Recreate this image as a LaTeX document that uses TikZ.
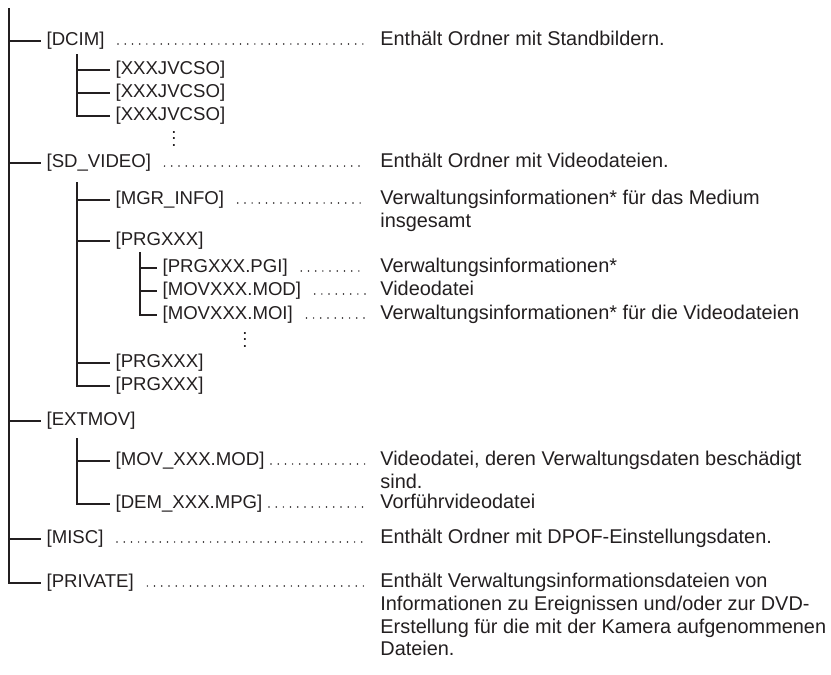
\documentclass[tikz,border=0pt]{standalone}
\usepackage{fontspec}
\setmainfont{Liberation Sans}
\usepackage{xcolor}
\usetikzlibrary{positioning,calc}
\definecolor{ink}{HTML}{231F20}
\newcommand{\stackdots}{\vbox{\baselineskip=3.3pt\lineskiplimit=0pt\hbox{.}\hbox{.}\hbox{.}}}
\newcommand{\desclines}[1]{\begin{tabular}[t]{@{}l@{}}#1\end{tabular}}

\begin{document}
\begin{tikzpicture}[
  x=0.5pt, y=-0.5pt,
  every node/.style={font=\fontsize{9.3}{11.25}\selectfont, text=ink},
  folder/.style={anchor=west, inner xsep=2.6pt, inner ysep=0pt},
  desc/.style={anchor=base west, inner sep=0pt, font=\fontsize{9.95}{11.35}\selectfont},
  more/.style={inner sep=0pt},
  branch/.style={draw=ink, line width=1pt},
  leader/.style={draw=ink, line width=0.85pt, line cap=round, dash pattern=on 0pt off 3.6pt, shorten <=4pt, shorten >=7pt},
]
  \useasboundingbox (0,0) rectangle (831,675);

  % Top level folders
  \coordinate (root) at (9,8);
  \node[folder] (dcim) at (41,41) {[DCIM]};
  \node[folder] (sdvideo) at (41,163) {[SD\_VIDEO]};
  \node[folder] (extmov) at (41,421) {[EXTMOV]};
  \node[folder] (misc) at (41,539) {[MISC]};
  \node[folder] (private) at (41,583) {[PRIVATE]};

  % DCIM
  \coordinate (dcim-sub) at (77,54);
  \node[folder] (jvc1) at (110,70) {[XXXJVCSO]};
  \node[folder] (jvc2) at (110,93) {[XXXJVCSO]};
  \node[folder] (jvc3) at (110,116) {[XXXJVCSO]};
  \node[more] (more1) at (174,139) {\stackdots};

  % SD_VIDEO
  \coordinate (sdvideo-sub) at (77,182);
  \node[folder] (mgr) at (110,200) {[MGR\_INFO]};
  \node[folder] (prg1) at (110,241) {[PRGXXX]};
  \node[folder] (prg2) at (110,363) {[PRGXXX]};
  \node[folder] (prg3) at (110,386) {[PRGXXX]};

  % PRGXXX
  \coordinate (prg1-sub) at (140,252);
  \node[folder] (pgi) at (157,268) {[PRGXXX.PGI]};
  \node[folder] (movmod) at (157,291) {[MOVXXX.MOD]};
  \node[folder] (movmoi) at (157,315) {[MOVXXX.MOI]};
  \node[more] (more2) at (245,340) {\stackdots};

  % EXTMOV
  \coordinate (extmov-sub) at (77,438);
  \node[folder] (movx) at (110,461) {[MOV\_XXX.MOD]};
  \node[folder] (dem) at (110,504) {[DEM\_XXX.MPG]};

  % Descriptions
  \coordinate (desccol) at (380,0);
  \node[desc] (d-dcim) at (dcim.base -| desccol) {Enthält Ordner mit Standbildern.};
  \node[desc] (d-sdvideo) at (sdvideo.base -| desccol) {Enthält Ordner mit Videodateien.};
  \node[desc] (d-mgr) at (mgr.base -| desccol) {\desclines{Verwaltungsinformationen* für das Medium\\insgesamt}};
  \node[desc] (d-pgi) at (pgi.base -| desccol) {Verwaltungsinformationen*};
  \node[desc] (d-movmod) at (movmod.base -| desccol) {Videodatei};
  \node[desc] (d-movmoi) at (movmoi.base -| desccol) {Verwaltungsinformationen* für die Videodateien};
  \node[desc] (d-movx) at (movx.base -| desccol) {\desclines{Videodatei, deren Verwaltungsdaten beschädigt\\sind.}};
  \node[desc] (d-dem) at (dem.base -| desccol) {Vorführvideodatei};
  \node[desc] (d-misc) at (misc.base -| desccol) {Enthält Ordner mit DPOF-Einstellungsdaten.};
  \node[desc] (d-private) at (private.base -| desccol)
    {\desclines{Enthält Verwaltungsinformationsdateien von\\Informationen zu Ereignissen und/oder zur DVD-\\Erstellung für die mit der Kamera aufgenommenen\\Dateien.}};

  % Tree lines
  \foreach \f in {dcim,sdvideo,extmov,misc,private}
    \draw[branch] (root) |- (\f.west);
  \foreach \f in {jvc1,jvc2,jvc3}
    \draw[branch] (dcim-sub) |- (\f.west);
  \foreach \f in {mgr,prg1,prg2,prg3}
    \draw[branch] (sdvideo-sub) |- (\f.west);
  \foreach \f in {pgi,movmod,movmoi}
    \draw[branch] (prg1-sub) |- (\f.west);
  \foreach \f in {movx,dem}
    \draw[branch] (extmov-sub) |- (\f.west);

  % Dotted leaders
  \foreach \f in {dcim,sdvideo,mgr,pgi,movmod,movmoi,misc,private}
    \draw[leader] ($(\f.east)+(0,3)$) -- ($(\f.east -| d-\f.west)+(0,3)$);
  \foreach \f in {movx,dem}
    \draw[leader, shorten <=0.5pt] ($(\f.east)+(0,3)$) -- ($(\f.east -| d-\f.west)+(0,3)$);
\end{tikzpicture}
\end{document}
